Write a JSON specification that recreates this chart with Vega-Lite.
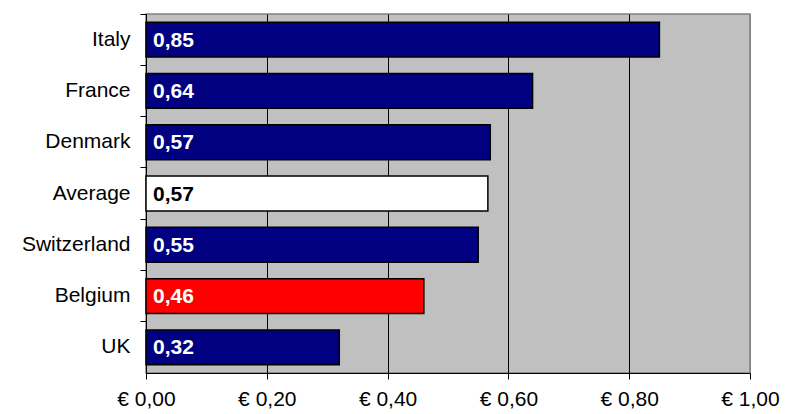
{
  "$schema": "https://vega.github.io/schema/vega-lite/v6.json",
  "width": 604,
  "height": 359,
  "autosize": {"type": "none"},
  "padding": {"left": 146, "top": 14, "right": 35, "bottom": 41},
  "config": {
    "locale": {"number": {"decimal": ",", "thousands": ".", "grouping": [3], "currency": ["€ ", ""]}},
    "view": {"fill": "#C0C0C0", "stroke": "#808080", "strokeWidth": 1.5},
    "font": "Liberation Sans"
  },
  "data": {
    "values": [
      {"country": "Italy", "price": 0.85, "group": "country"},
      {"country": "France", "price": 0.64, "group": "country"},
      {"country": "Denmark", "price": 0.57, "group": "country"},
      {"country": "Average", "price": 0.566, "group": "average"},
      {"country": "Switzerland", "price": 0.55, "group": "country"},
      {"country": "Belgium", "price": 0.46, "group": "highlight"},
      {"country": "UK", "price": 0.32, "group": "country"}
    ]
  },
  "encoding": {
    "y": {
      "field": "country",
      "type": "nominal",
      "sort": null,
      "scale": {"paddingInner": 0.32, "paddingOuter": 0.16},
      "axis": {
        "title": null,
        "bandPosition": -0.235,
        "domainColor": "black",
        "domainWidth": 1,
        "tickColor": "black",
        "tickSize": 6,
        "labelFont": "Liberation Sans",
        "labelFontSize": 21,
        "labelColor": "black",
        "labelPadding": 10,
        "labelLimit": 200
      }
    }
  },
  "layer": [
    {
      "mark": {"type": "bar", "stroke": "black", "strokeWidth": 1.5},
      "encoding": {
        "x": {
          "field": "price",
          "type": "quantitative",
          "scale": {"domain": [0, 1], "nice": false},
          "axis": {
            "title": null,
            "values": [0, 0.2, 0.4, 0.6, 0.8, 1.0],
            "labelExpr": "'€ ' + replace(format(datum.value, '.2f'), '.', ',')",
            "labelFont": "Liberation Sans",
            "labelFontSize": 21,
            "labelColor": "black",
            "labelPadding": 9,
            "labelFlush": false,
            "labelOverlap": false,
            "domainColor": "black",
            "domainWidth": 1,
            "tickColor": "black",
            "tickSize": 6,
            "grid": true,
            "gridColor": {"condition": {"test": "datum.value >= 1", "value": "#808080"}, "value": "black"},
            "gridWidth": 1,
            "gridOpacity": 1
          }
        },
        "fill": {
          "field": "group",
          "type": "nominal",
          "scale": {"domain": ["country", "average", "highlight"], "range": ["#000080", "#FFFFFF", "#FF0000"]},
          "legend": null
        }
      }
    },
    {
      "mark": {"type": "text", "align": "left", "baseline": "middle", "dx": 7, "dy": 1, "fontSize": 21, "fontWeight": "bold", "font": "Liberation Sans"},
      "encoding": {
        "x": {"datum": 0, "type": "quantitative"},
        "text": {"field": "price", "type": "quantitative", "format": ".2f"},
        "color": {
          "condition": {"test": "datum.group === 'average'", "value": "black"},
          "value": "white"
        }
      }
    }
  ]
}
